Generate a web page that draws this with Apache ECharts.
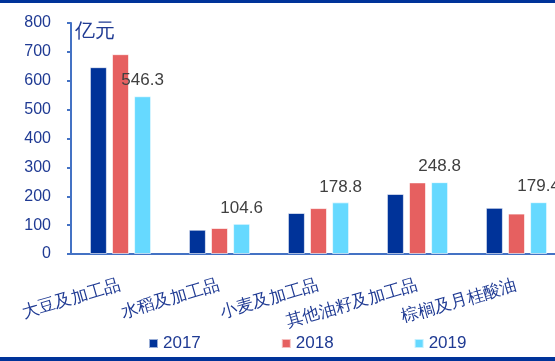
<!DOCTYPE html>
<html>
<head>
<meta charset="utf-8">
<script src="https://cdn.jsdelivr.net/npm/echarts@6/dist/echarts.min.js"></script>
<style>
  html, body { margin: 0; padding: 0; background: #fff; }
  #chart { width: 555px; height: 361px; }
</style>
</head>
<body>
<div id="chart"></div>
<script>
const categories = ["大豆及加工品", "水稻及加工品", "小麦及加工品", "其他油籽及加工品", "棕榈及月桂酸油"];
const years = ["2017", "2018", "2019"];
const values2017 = [647, 84, 142, 208, 160];
const values2018 = [692, 90, 159, 248, 140];
const values2019 = [546.3, 104.6, 178.8, 248.8, 179.4];
const yTicks = { min: 0, max: 800, interval: 100 };

const colors = ["#003399", "#E66060", "#66D9FF"];
const axisBlue = "#4472C4";
const textBlue = "#1F3A93";

const chart = echarts.init(document.getElementById("chart"));

const makeSeries = (name, data, color, withLabel) => ({
    name: name,
    type: "bar",
    data: data,
    barWidth: 17,
    barGap: "30%",
    itemStyle: { color: color, borderColor: "rgba(255,255,255,0.6)", borderWidth: 1 },
    label: {
        show: withLabel,
        position: "top",
        distance: 7,
        color: "#404040",
        fontSize: 17,
        fontFamily: "Liberation Sans",
    },
});

const option = {
    animation: false,
    // plot area runs past the right edge, as in the reference (last group is cut off)
    grid: { left: 71, top: 23, width: 495, height: 231, outerBoundsMode: "none", containLabel: false },
    legend: {
        bottom: 4,
        left: 143,
        itemWidth: 9,
        itemHeight: 9,
        itemGap: 80,
        icon: "rect",
        textStyle: { color: textBlue, fontSize: 17, fontFamily: "Liberation Sans" },
        data: years,
    },
    xAxis: {
        type: "category",
        data: categories,
        axisLine: { lineStyle: { color: axisBlue, width: 2 } },
        axisTick: { length: 4, lineStyle: { color: axisBlue, width: 2 } },
        axisLabel: {
            interval: 0,
            rotate: 16,
            margin: 31,
            color: textBlue,
            fontSize: 17,
            fontFamily: "Liberation Sans",
        },
    },
    yAxis: {
        type: "value",
        min: yTicks.min,
        max: yTicks.max,
        interval: yTicks.interval,
        name: "亿元",
        nameLocation: "end",
        nameGap: -18,
        nameTextStyle: { color: textBlue, fontSize: 20, align: "left", padding: [0, 0, 0, 4] },
        axisLine: { show: true, lineStyle: { color: axisBlue, width: 2 } },
        axisTick: { show: true, inside: false, length: 4, lineStyle: { color: axisBlue, width: 2 } },
        splitLine: { show: false },
        axisLabel: { color: textBlue, fontSize: 16, margin: 20, fontFamily: "Liberation Sans" },
    },
    graphic: [
        { type: "rect", shape: { x: 0, y: 0, width: 555, height: 3 }, style: { fill: "#003399" } },
        { type: "rect", shape: { x: 0, y: 357, width: 555, height: 4 }, style: { fill: "#003399" } },
    ],
    series: [
        makeSeries(years[0], values2017, colors[0], false),
        makeSeries(years[1], values2018, colors[1], false),
        makeSeries(years[2], values2019, colors[2], true),
    ],
};

chart.setOption(option);
</script>
</body>
</html>
